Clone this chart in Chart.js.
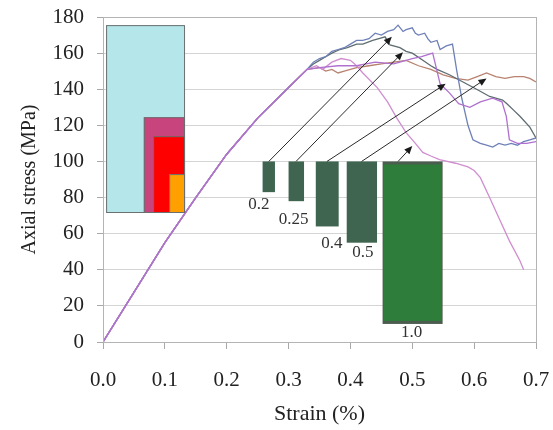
<!doctype html>
<html>

<head>
  <script src="https://cdn.jsdelivr.net/npm/chart.js@4/dist/chart.umd.min.js"></script>
  <style>
    html, body { margin: 0; padding: 0; background: #fff; }
    #wrap { width: 553px; height: 430px; }
  </style>
</head>

<body>
  <div id="wrap"><canvas id="canvas"></canvas></div>
  <script>
    // common elastic part shared by all specimens
    const baseStrain = [0, 0.05, 0.1, 0.15, 0.2, 0.25, 0.3, 0.33];
    const baseStress = [0, 27.5, 55, 80, 104, 124, 141, 151];

    // specimen branches after the curves split
    const blueStrain = [0.34, 0.35, 0.36, 0.37, 0.38, 0.39, 0.40, 0.41, 0.42, 0.43, 0.44, 0.45, 0.46, 0.47, 0.477, 0.485, 0.49, 0.50, 0.505, 0.51, 0.52, 0.525, 0.53, 0.54, 0.545, 0.555, 0.565, 0.572, 0.58, 0.59, 0.598, 0.61, 0.62, 0.63, 0.64, 0.65, 0.66, 0.67, 0.68, 0.69, 0.70];
    const blueStress = [155, 157, 158, 161, 162, 163, 165, 167, 167, 168, 171, 170, 172, 173, 175.5, 172, 173, 174, 171, 170, 171, 168, 166, 167, 162, 164, 165, 150, 135, 120, 112, 110, 109, 108, 110, 109, 110, 109, 111, 112, 113];

    const grayStrain = [0.34, 0.35, 0.36, 0.37, 0.383, 0.395, 0.41, 0.42, 0.436, 0.446, 0.456, 0.464, 0.48, 0.49, 0.50, 0.517, 0.53, 0.54, 0.56, 0.582, 0.604, 0.625, 0.646, 0.653, 0.665, 0.674, 0.69, 0.70];
    const grayStress = [154, 156, 158, 160, 162, 163, 165, 165, 167, 168, 169, 164.5, 163, 161, 160, 156, 153, 151, 148, 144, 140, 136, 134, 132, 128, 125, 119, 113];

    const brownStrain = [0.35, 0.36, 0.37, 0.38, 0.39, 0.40, 0.41, 0.43, 0.45, 0.47, 0.49, 0.51, 0.53, 0.55, 0.57, 0.59, 0.605, 0.62, 0.635, 0.65, 0.665, 0.68, 0.69, 0.70];
    const brownStress = [152, 150, 151, 149, 150, 151, 152, 153, 154, 155, 156, 153, 151, 148, 146, 145, 147, 149, 147, 146, 147, 147, 146, 144];

    const pinkStrain = [0.345, 0.355, 0.37, 0.385, 0.40, 0.41, 0.42, 0.443, 0.46, 0.475, 0.49, 0.505, 0.517, 0.53, 0.544, 0.57, 0.59, 0.60, 0.61, 0.625, 0.641, 0.657, 0.674, 0.68];
    const pinkStress = [153, 151, 155, 157, 156, 153, 149, 141, 133, 124, 116, 110, 105, 103, 101, 99, 97, 95, 91, 80, 68, 56, 45, 40];

    const violetStrain = [0.35, 0.38, 0.41, 0.44, 0.47, 0.50, 0.515, 0.533, 0.545, 0.56, 0.575, 0.593, 0.61, 0.63, 0.645, 0.652, 0.657, 0.67, 0.685, 0.70];
    const violetStress = [152, 153, 153, 155, 154, 157, 158, 160, 143, 138, 132, 130, 133, 135, 133, 125, 112, 110, 110, 111];

    // specimen size inset (strain from, strain to, stress bottom, stress top)
    const insetBoxes = [
      [0.005, 0.131, 72, 175.5, '#b4e6ea'],
      [0.066, 0.131, 72, 124.5, '#c8447c'],
      [0.081, 0.131, 72, 114, '#ff0000'],
      [0.107, 0.131, 72, 93, '#ffa000']
    ];

    // aspect-ratio bars
    const barNames = ['0.2', '0.25', '0.4', '0.5', '1.0'];
    const barFrom = [0.258, 0.300, 0.344, 0.394, 0.452];
    const barTo = [0.278, 0.325, 0.381, 0.443, 0.549];
    const barBottom = [83, 78, 64, 55, 10];
    const barTop = 100;
    const labelX = [0.252, 0.308, 0.370, 0.420, 0.499];
    const labelY = [75.9, 68.1, 54.8, 49.3, 5.5];
    const arrowStart = [0.268, 0.312, 0.362, 0.418, 0.477];
    const arrowEndX = [0.467, 0.485, 0.554, 0.620, 0.500];
    const arrowEndY = [169, 160.5, 143, 146, 108.5];

    function curve(sx, sy) {
      const xs = baseStrain.concat(sx), ys = baseStress.concat(sy);
      return xs.map((x, i) => ({ x: x, y: ys[i] }));
    }

    const serif = '"Liberation Serif", "Times New Roman", serif';

    const overlay = {
      id: 'overlay',
      afterDatasetsDraw(chart) {
        const ctx = chart.ctx, xs = chart.scales.x, ys = chart.scales.y;
        const a = chart.chartArea;
        ctx.save();
        insetBoxes.forEach((b) => {
          const x0 = xs.getPixelForValue(b[0]), x1 = xs.getPixelForValue(b[1]);
          const y0 = ys.getPixelForValue(b[3]), y1 = ys.getPixelForValue(b[2]);
          ctx.fillStyle = b[4];
          ctx.fillRect(x0, y0, x1 - x0, y1 - y0);
          ctx.strokeStyle = '#6a7070';
          ctx.lineWidth = 1;
          ctx.strokeRect(x0 + 0.5, y0 + 0.5, x1 - x0, y1 - y0);
        });
        barNames.forEach((n, i) => {
          const x0 = xs.getPixelForValue(barFrom[i]), x1 = xs.getPixelForValue(barTo[i]);
          const y0 = ys.getPixelForValue(barTop), y1 = ys.getPixelForValue(barBottom[i]);
          if (i === 4) {
            ctx.fillStyle = '#4b5d4e';
            ctx.fillRect(x0, y0, x1 - x0, y1 - y0);
            ctx.fillStyle = '#2f7d3a';
            ctx.fillRect(x0 + 1, y0 + 3, x1 - x0 - 2, y1 - y0 - 6);
          } else {
            ctx.fillStyle = '#3f6550';
            ctx.fillRect(x0, y0, x1 - x0, y1 - y0);
          }
        });
        ctx.fillStyle = '#333';
        ctx.font = '17px ' + serif;
        ctx.textAlign = 'center';
        ctx.textBaseline = 'middle';
        barNames.forEach((n, i) => {
          ctx.fillText(n, xs.getPixelForValue(labelX[i]), ys.getPixelForValue(labelY[i]));
        });
        ctx.strokeStyle = '#2a2a2a';
        ctx.fillStyle = '#1a1a1a';
        ctx.lineWidth = 1;
        arrowStart.forEach((s, i) => {
          const x0 = xs.getPixelForValue(s), y0 = ys.getPixelForValue(barTop);
          const x1 = xs.getPixelForValue(arrowEndX[i]), y1 = ys.getPixelForValue(arrowEndY[i]);
          const ang = Math.atan2(y1 - y0, x1 - x0);
          ctx.beginPath();
          ctx.moveTo(x0, y0);
          ctx.lineTo(x1 - 6 * Math.cos(ang), y1 - 6 * Math.sin(ang));
          ctx.stroke();
          ctx.beginPath();
          ctx.moveTo(x1, y1);
          ctx.lineTo(x1 - 8 * Math.cos(ang) + 3.5 * Math.sin(ang), y1 - 8 * Math.sin(ang) - 3.5 * Math.cos(ang));
          ctx.lineTo(x1 - 8 * Math.cos(ang) - 3.5 * Math.sin(ang), y1 - 8 * Math.sin(ang) + 3.5 * Math.cos(ang));
          ctx.closePath();
          ctx.fill();
        });
        ctx.strokeStyle = '#b4b4b4';
        ctx.strokeRect(a.left + 0.5, a.top + 0.5, a.right - a.left, a.bottom - a.top);
        ctx.restore();
      }
    };

    function ds(label, color, sx, sy) {
      return {
        label: label,
        data: curve(sx, sy),
        borderColor: color,
        borderWidth: 1.3,
        pointRadius: 0,
        fill: false,
        tension: 0
      };
    }

    function noPad(s) {
      s.paddingTop = 0;
      s.paddingBottom = 0;
      s.paddingLeft = 0;
      s.paddingRight = 0;
    }

    new Chart(document.getElementById('canvas').getContext('2d'), {
      type: 'line',
      data: {
        datasets: [
          ds('violet', '#b070d0', violetStrain, violetStress),
          ds('pink', '#d08ed0', pinkStrain, pinkStress),
          ds('blue', '#6f80b8', blueStrain, blueStress),
          ds('gray', '#5d6c70', grayStrain, grayStress),
          ds('brown', '#b8826f', brownStrain, brownStress)
        ]
      },
      plugins: [overlay],
      options: {
        responsive: true,
        maintainAspectRatio: false,
        animation: false,
        layout: { padding: { top: 17, right: 17, left: 0, bottom: 0 } },
        plugins: { legend: { display: false }, tooltip: { enabled: false } },
        scales: {
          x: {
            type: 'linear',
            min: 0,
            max: 0.7,
            afterFit: (s) => { s.height = 88; noPad(s); },
            ticks: {
              stepSize: 0.1,
              color: '#222',
              padding: 19,
              font: { family: serif, size: 21 },
              callback: (v) => v.toFixed(1)
            },
            grid: { drawOnChartArea: false, drawTicks: true, tickLength: 7, color: '#a8a8a8' },
            border: { color: '#a8a8a8' },
            title: {
              display: true,
              text: 'Strain (%)',
              color: '#222',
              font: { family: serif, size: 22 },
              padding: { top: 0, bottom: 3 }
            }
          },
          y: {
            min: 0,
            max: 180,
            afterFit: (s) => { s.width = 103; noPad(s); },
            ticks: {
              stepSize: 20,
              color: '#222',
              padding: 13,
              font: { family: serif, size: 21 }
            },
            grid: { color: '#d4d4d4', tickLength: 6, tickColor: '#a8a8a8' },
            border: { color: '#a8a8a8' },
            title: {
              display: true,
              text: 'Axial stress (MPa)',
              color: '#222',
              font: { family: serif, size: 20 },
              padding: { top: 18, bottom: 0 }
            }
          }
        }
      }
    });
  </script>
</body>

</html>
